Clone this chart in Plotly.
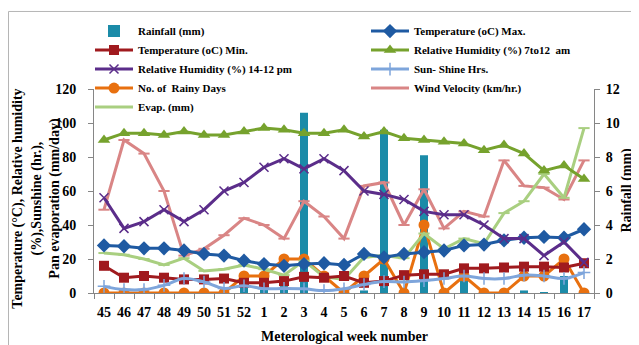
import plotly.graph_objects as go

weeks = ["45", "46", "47", "48", "49", "50", "51", "52", "1", "2", "3", "4", "5",
         "6", "7", "8", "9", "10", "11", "12", "13", "14", "15", "16", "17"]

rainfall = [0, 0, 0, 0, 0, 0, 0, 0.4, 0.2, 0.4, 10.6, 0, 0, 0.15, 9.6, 0, 8.1,
            0, 0.8, 0, 0, 0.15, 0.05, 1.0, 0]
temp_max = [28, 27.5, 26.3, 26.3, 25, 23, 22, 19, 17, 16, 17, 17.5, 16.5, 23, 21,
            23, 24, 25, 28, 28.5, 31, 32.5, 33, 32.5, 37.5]
temp_min = [16, 9, 10, 9, 8, 8, 8.5, 6, 6, 7, 9.5, 9, 10, 6, 7, 10.5, 11, 11,
            14.5, 14.5, 15, 15.5, 15.5, 15, 17.5]
rh_am = [90, 94, 94, 93, 95, 93, 93, 95, 97, 96, 94, 94, 96, 92, 95, 91, 90, 89,
         88, 84, 87, 82, 72, 75, 67]
rh_pm = [56, 38, 42, 49, 42, 49, 60, 65, 74, 79, 73, 79, 72, 60, 58, 55, 48, 46,
         46, 40, 32, 32, 22, 30, 18]
sunshine = [3.9, 2, 2, 4.5, 8.5, 6.5, 2.7, 4.3, 2.5, 2.7, 2.5, 1.4, 2.5, 5, 6.7,
            6.5, 7.3, 8.5, 10, 8.5, 8.5, 10.5, 10, 8.5, 12]
rainy_days = [0, 0, 0, 0, 0, 0, 0, 1, 1, 2, 2, 1, 0, 1, 2, 0, 4, 0, 1, 0, 0, 1,
              1, 2, 0]
wind = [4.9, 9.0, 8.2, 6.0, 2.2, 2.6, 3.4, 4.4, 4.0, 3.2, 5.4, 4.5, 3.2, 6.3,
        6.5, 4.0, 6.1, 3.8, 4.8, 4.5, 7.8, 6.3, 6.2, 5.5, 7.8]
evap = [2.35, 2.25, 2.0, 1.65, 2.05, 1.3, 1.4, 1.65, 1.4, 1.05, 1.9, 0.95, 0.8,
        2.1, 2.2, 2.05, 3.5, 2.6, 3.2, 2.9, 4.7, 5.4, 7.0, 5.6, 9.7]

FONT = "Liberation Serif"
AX = "#868686"

fig = go.Figure()

fig.add_trace(go.Bar(x=weeks, y=rainfall, name="Rainfall (mm)", yaxis="y",
                     marker=dict(color="#1B8BA8", line=dict(width=0)), width=0.4))
fig.add_trace(go.Scatter(x=weeks, y=temp_max, name="Temperature (oC) Max.", yaxis="y2",
                         mode="lines+markers", line=dict(color="#1F5AA2", width=3),
                         marker=dict(symbol="diamond", size=11, color="#1F5AA2")))
fig.add_trace(go.Scatter(x=weeks, y=temp_min, name="Temperature (oC) Min.", yaxis="y2",
                         mode="lines+markers", line=dict(color="#A01A1E", width=3),
                         marker=dict(symbol="square", size=10, color="#A01A1E")))
fig.add_trace(go.Scatter(x=weeks, y=rh_am, name="Relative Humidity (%) 7to12  am", yaxis="y2",
                         mode="lines+markers", line=dict(color="#76A22D", width=3),
                         marker=dict(symbol="triangle-up", size=11, color="#76A22D")))
fig.add_trace(go.Scatter(x=weeks, y=rh_pm, name="Relative Humidity (%) 14-12 pm", yaxis="y2",
                         mode="lines+markers", line=dict(color="#5B2D8A", width=3),
                         marker=dict(symbol="x-thin", size=9, color="#5B2D8A",
                                     line=dict(color="#5B2D8A", width=1.5))))
fig.add_trace(go.Scatter(x=weeks, y=sunshine, name="Sun- Shine Hrs.", yaxis="y2",
                         mode="lines+markers", line=dict(color="#7EA5DB", width=3, shape="spline"),
                         marker=dict(symbol="cross-thin", size=9, color="#7EA5DB",
                                     line=dict(color="#7EA5DB", width=1.5))))
fig.add_trace(go.Scatter(x=weeks, y=rainy_days, name="No. of  Rainy Days", yaxis="y",
                         mode="lines+markers", line=dict(color="#E8700F", width=3),
                         marker=dict(symbol="circle", size=11, color="#E8700F")))
fig.add_trace(go.Scatter(x=weeks, y=wind, name="Wind Velocity (km/hr.)", yaxis="y",
                         mode="lines+markers", line=dict(color="#D98585", width=3),
                         marker=dict(symbol="line-ew", size=8, color="#D98585",
                                     line=dict(color="#D98585", width=2))))
fig.add_trace(go.Scatter(x=weeks, y=evap, name="Evap. (mm)", yaxis="y",
                         mode="lines+markers", line=dict(color="#A9CF80", width=3),
                         marker=dict(symbol="line-ew", size=8, color="#A9CF80",
                                     line=dict(color="#A9CF80", width=2))))

tickfont = dict(family=FONT, size=14, color="black", weight="bold")

fig.update_layout(
    width=639, height=345,
    margin=dict(l=86, r=53, t=81, b=60, autoexpand=False),
    paper_bgcolor="white", plot_bgcolor="white",
    font=dict(family=FONT, color="black"),
    showlegend=True,
    legend=dict(orientation="h", x=-0.008, xanchor="left", y=1.355, yanchor="top",
                entrywidth=223, entrywidthmode="pixels",
                font=dict(family=FONT, size=11, color="black", weight="bold"),
                bgcolor="rgba(0,0,0,0)", itemwidth=38, traceorder="normal"),
    xaxis=dict(type="category", showline=True, linecolor=AX, linewidth=1,
               ticks="outside", ticklen=5, tickcolor=AX, tickson="boundaries",
               tickfont=tickfont, tickangle=0, showgrid=False, ticklabelstandoff=6,
               range=[-0.5, 24.5], automargin=False),
    yaxis=dict(side="right", range=[0, 12], dtick=2, showline=True, linecolor=AX,
               ticks="outside", ticklen=5, tickcolor=AX, tickfont=tickfont,
               showgrid=False, zeroline=False, ticklabelstandoff=3, automargin=False),
    yaxis2=dict(side="left", overlaying="y", range=[0, 120], dtick=20, showline=True,
                linecolor=AX, ticks="outside", ticklen=5, tickcolor=AX,
                tickfont=tickfont, showgrid=False, zeroline=False,
                ticklabelstandoff=9, automargin=False),
    annotations=[
        dict(text="Temperature (°C), Relative humidity<br>(%),Sunshine (hr.),<br>Pan evaporation (mm/day)",
             xref="paper", yref="paper", x=-0.115, y=0.46, xanchor="center", yanchor="middle",
             textangle=-90, showarrow=False,
             font=dict(family=FONT, size=14, color="black", weight="bold")),
        dict(text="Rainfall (mm)", xref="paper", yref="paper", x=1.066, y=0.502,
             xanchor="center", yanchor="middle", textangle=-90, showarrow=False,
             font=dict(family=FONT, size=14, color="black", weight="bold")),
        dict(text="Meterological week number", xref="paper", yref="paper", x=0.5, y=-0.215,
             xanchor="center", yanchor="middle", showarrow=False,
             font=dict(family=FONT, size=14, color="black", weight="bold")),
    ],
    shapes=[
        dict(type="rect", xref="paper", yref="paper", x0=-0.171, x1=1.3, y0=-0.6, y1=1.38,
             line=dict(color="#B5B5B5", width=1), fillcolor="rgba(0,0,0,0)", layer="below"),
    ],
)

fig.write_html("out.html")
